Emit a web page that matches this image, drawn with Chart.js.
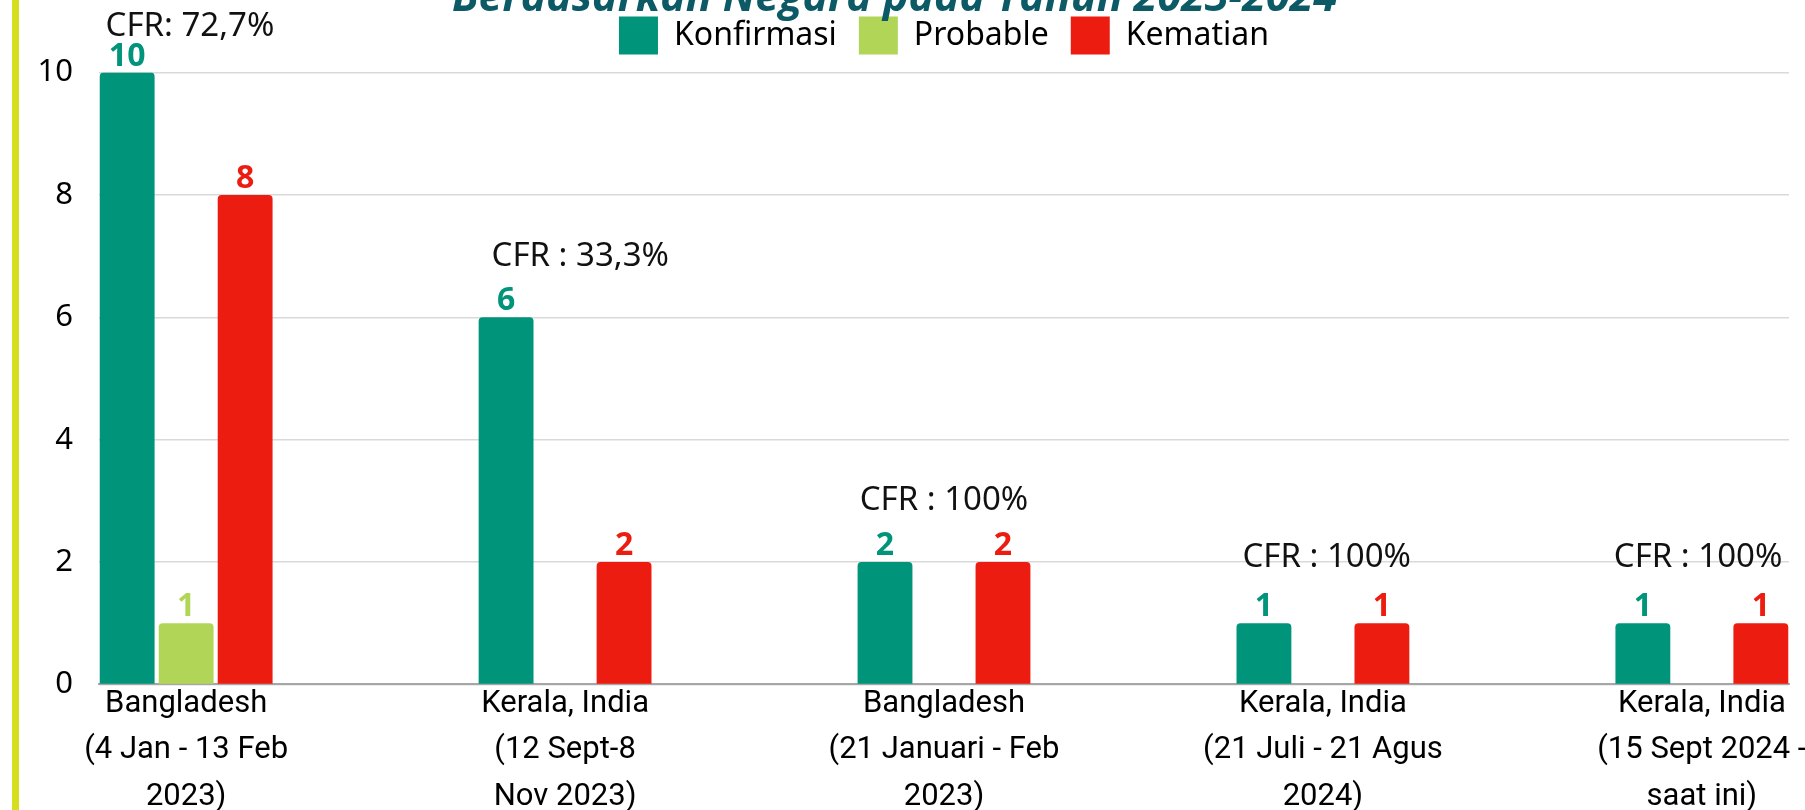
<!DOCTYPE html>
<html>
<head>
<meta charset="utf-8">
<script src="https://cdn.jsdelivr.net/npm/chart.js@4"></script>
<style>
  html, body { margin: 0; padding: 0; background: #fff; overflow: hidden; }
  body { width: 1805px; height: 810px; position: relative; }
  .accent { position: absolute; left: 12px; top: 0; width: 7px; height: 810px; background: #d5df1f; }
  .chart-box { position: absolute; left: 0; top: -27px; width: 1805px; height: 848px; }
</style>
</head>
<body>
<div class="accent"></div>
<div class="chart-box"><canvas id="nipahChart"></canvas></div>
<script>
const categories = [
    ['Bangladesh', '(4 Jan - 13 Feb', '2023)'],
    ['Kerala, India', '(12 Sept-8', 'Nov 2023)'],
    ['Bangladesh', '(21 Januari - Feb', '2023)'],
    ['Kerala, India', '(21 Juli - 21 Agus', '2024)'],
    ['Kerala, India', '(15 Sept 2024 -', 'saat ini)']
];
const konfirmasi = [10, 6, 2, 1, 1];
const probable = [1, null, null, null, null];
const kematian = [8, 2, 2, 1, 1];
const cfrTexts = ['CFR: 72,7%', 'CFR : 33,3%', 'CFR : 100%', 'CFR : 100%', 'CFR : 100%'];
const yTicks = [0, 2, 4, 6, 8, 10];

// where the CFR notes sit, in axis units
const cfrAnchor = [
    {x: 0.01, y: 10.75}, {x: 1.04, y: 7}, {x: 2, y: 3}, {x: 3.01, y: 2.08}, {x: 3.99, y: 2.08}
];

const toPoints = arr => arr.map((v, i) => ({x: i, y: v}));

const valueLabels = {
    id: 'valueLabels',
    afterDatasetsDraw(chart) {
        const ctx = chart.ctx;
        ctx.save();
        ctx.font = 'bold 32px "Noto Sans"';
        ctx.textAlign = 'center';
        ctx.textBaseline = 'alphabetic';
        chart.data.datasets.forEach((ds, di) => {
            const meta = chart.getDatasetMeta(di);
            meta.data.forEach((bar, i) => {
                const v = ds.data[i].y;
                if (v == null) return;
                ctx.fillStyle = ds.backgroundColor;
                ctx.fillText(String(v), bar.x, bar.y - 7);
            });
        });
        ctx.restore();
    }
};

const cfrNotes = {
    id: 'cfrNotes',
    afterDatasetsDraw(chart) {
        const ctx = chart.ctx;
        const xs = chart.scales.x, ys = chart.scales.y;
        ctx.save();
        ctx.font = '33px "Noto Sans"';
        ctx.textAlign = 'center';
        ctx.textBaseline = 'middle';
        ctx.fillStyle = '#111';
        cfrTexts.forEach((t, i) => {
            ctx.fillText(t, xs.getPixelForValue(cfrAnchor[i].x), ys.getPixelForValue(cfrAnchor[i].y));
        });
        ctx.restore();
    }
};

// a little more room between legend and plot
const legendGap = {
    id: 'legendGap',
    beforeInit(chart) {
        const fit = chart.legend.fit;
        chart.legend.fit = function () {
            fit.call(this);
            this.height += 8;
        };
    }
};

const ctx = document.getElementById('nipahChart').getContext('2d');
new Chart(ctx, {
    type: 'bar',
    data: {
        datasets: [{
            label: 'Konfirmasi',
            data: toPoints(konfirmasi),
            backgroundColor: '#00947a'
        }, {
            label: 'Probable',
            data: toPoints(probable),
            backgroundColor: '#b1d657'
        }, {
            label: 'Kematian',
            data: toPoints(kematian),
            backgroundColor: '#ec1d10'
        }]
    },
    options: {
        responsive: true,
        maintainAspectRatio: false,
        animation: false,
        categoryPercentage: 0.467,
        barPercentage: 0.93,
        datasets: {
            bar: { borderRadius: 4 }
        },
        layout: {
            padding: { left: 0, right: 16, top: 0, bottom: 4 }
        },
        plugins: {
            title: {
                display: true,
                text: 'Berdasarkan Negara pada Tahun 2023-2024',
                color: '#0b5a66',
                font: { family: '"Open Sans"', size: 43, weight: 'bold', style: 'italic', lineHeight: 1.2 },
                padding: { top: 0, bottom: -30 }
            },
            legend: {
                position: 'top',
                fullSize: false,
                labels: {
                    boxWidth: 39,
                    boxHeight: 38,
                    padding: 22,
                    color: '#000',
                    font: { family: '"Noto Sans"', size: 32 }
                }
            },
            tooltip: { enabled: false }
        },
        scales: {
            x: {
                type: 'linear',
                offset: false,
                min: -0.23,
                max: 4.23,
                afterBuildTicks: s => { s.ticks = categories.map((c, i) => ({value: i})); },
                ticks: {
                    callback: v => categories[v],
                    autoSkip: false,
                    maxRotation: 0,
                    minRotation: 0,
                    padding: -3,
                    color: '#000',
                    font: { family: 'Roboto', size: 31, lineHeight: 1.49 }
                },
                grid: { display: false, offset: false, drawTicks: false },
                border: { display: true, color: '#a6a6a6', width: 2 }
            },
            y: {
                min: 0,
                max: 10,
                afterBuildTicks: s => { s.ticks = yTicks.map(v => ({value: v})); },
                ticks: {
                    stepSize: 2,
                    padding: 26,
                    color: '#000',
                    font: { family: '"Noto Sans"', size: 31 }
                },
                grid: { color: '#d9d9d9', lineWidth: 1.5, drawTicks: false },
                border: { display: false },
                afterFit: s => { s.width = 99; }
            }
        }
    },
    plugins: [valueLabels, cfrNotes, legendGap]
});
</script>
</body>
</html>
